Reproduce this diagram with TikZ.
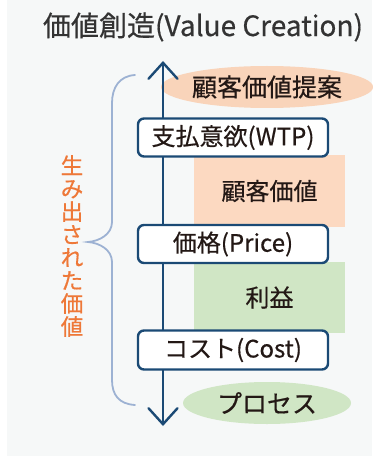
\documentclass[tikz,border=0pt]{standalone}
\usepackage{fontspec}
\setmainfont{Noto Sans CJK JP}
\newfontfamily\medfont{Noto Sans CJK JP}[FakeBold=0.5]
\usetikzlibrary{arrows.meta,shapes.geometric}
\definecolor{bg}{HTML}{F6F8F8}
\definecolor{axiscol}{HTML}{1B4A75}
\definecolor{txt}{HTML}{231815}
\definecolor{titlecol}{HTML}{333333}
\definecolor{orell}{HTML}{F9D4BA}
\definecolor{orrect}{HTML}{FCD9C1}
\definecolor{grfill}{HTML}{D0E6C5}
\definecolor{bracecol}{HTML}{9DB2D3}
\definecolor{vorange}{HTML}{EE7838}
\tikzset{
  lbl/.style={font=\medfont\fontsize{24}{26}\selectfont, text=txt, inner sep=0pt},
  stagebox/.style={lbl, draw=axiscol, line width=2.4pt, fill=white, rounded corners=6pt,
    minimum width=190pt, minimum height=38pt},
  valrect/.style={lbl, minimum width=151pt},
  ell/.style={lbl, font=\medfont\fontsize{25}{26}\selectfont, ellipse, minimum width=168pt, minimum height=42pt},
  axisline/.style={draw=axiscol, line width=2.4pt,
    {Straight Barb[length=16pt,width=29pt,line cap=round]}-{Straight Barb[length=16pt,width=29pt,line cap=round]}},
  bracepath/.style={draw=bracecol, line width=1.8pt, line cap=round}
}
\begin{document}
\begin{tikzpicture}[x=1pt,y=-1pt]
\useasboundingbox (0,0) rectangle (372,457);
\fill[bg] (7,0) rectangle (372,456);
\node[lbl, font=\medfont\fontsize{28}{30}\selectfont, text=titlecol] (title) at (203,27) {価値創造(Value Creation)};
% value rectangles
\node[valrect, fill=orrect, minimum height=72pt] (cv) at (269.5,191) {顧客価値};
\node[valrect, fill=grfill, minimum height=71pt] (profit) at (269.5,297.5) {利益};
% ellipses
\node[ell, fill=orell] (prop) at (267,87) {顧客価値提案};
\node[ell, fill=grfill] (proc) at (267,403) {プロセス};
% axis
\coordinate (top) at (163,61);
\coordinate (bot) at (163,426);
\draw[axisline] (bot) -- (top);
% stage boxes
\node[stagebox] (wtp) at (233,137.5) {支払意欲(WTP)};
\node[stagebox] (price) at (233,244) {価格(Price)};
\node[stagebox, minimum height=39pt] (cost) at (233,350) {コスト(Cost)};
% brace
\draw[bracepath] (135,75) .. controls (119,76) and (112,88) .. (112,103) -- (112,222)
  .. controls (112,234) and (100,241) .. (88,242)
  .. controls (100,243) and (112,250) .. (112,262) -- (112,380)
  .. controls (112,395) and (119,404) .. (135,405);
\node[font=\medfont\fontsize{22.5}{23}\selectfont, text=vorange, align=center, inner sep=0pt] (created) at (72,246)
  {生\\み\\出\\さ\\れ\\た\\価\\値};
\end{tikzpicture}
\end{document}
